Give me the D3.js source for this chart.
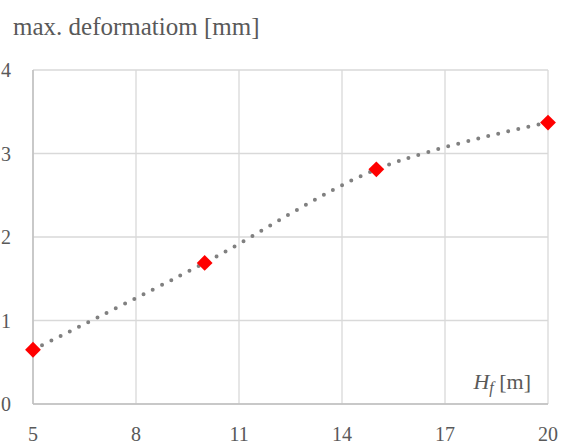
<!DOCTYPE html>
<html>
<head>
<meta charset="utf-8">
<script src="https://cdn.jsdelivr.net/npm/d3@7"></script>
<style>
  body { margin: 0; background: #fff; }
</style>
</head>
<body>
<div id="chart"></div>
<script>
const heights = [5, 10, 15, 20];
const deformation = [0.65, 1.69, 2.81, 3.37];
const xTicks = [5, 8, 11, 14, 17, 20];
const yTicks = [0, 1, 2, 3, 4];

const width = 563, height = 444;
const margin = { top: 70, right: 15, bottom: 40, left: 33 };
const serif = '"Liberation Serif", "Times New Roman", serif';
const base = 10; // text is set small and scaled up

const svg = d3.select("#chart").append("svg")
  .attr("width", width)
  .attr("height", height);

const x = d3.scaleLinear().domain([5, 20]).range([margin.left, width - margin.right]);
const y = d3.scaleLinear().domain([0, 4]).range([height - margin.bottom, margin.top]);

// helper: place a serif label at (px, py) with a given pixel size
function label(g, px, py, size, anchor) {
  return g.append("text")
    .attr("transform", `translate(${px},${py}) scale(${size / base})`)
    .attr("text-anchor", anchor)
    .style("font-family", serif)
    .attr("font-size", base)
    .attr("fill", "#595959");
}

// gridlines
svg.append("g")
  .selectAll("line")
  .data(xTicks)
  .join("line")
  .attr("x1", d => x(d)).attr("x2", d => x(d))
  .attr("y1", y(0)).attr("y2", y(4))
  .attr("stroke", "#d9d9d9").attr("stroke-width", 1.3);

svg.append("g")
  .selectAll("line")
  .data(yTicks)
  .join("line")
  .attr("x1", x(5)).attr("x2", x(20))
  .attr("y1", d => y(d)).attr("y2", d => y(d))
  .attr("stroke", "#d9d9d9").attr("stroke-width", 1.3);

// axis lines
svg.append("line")
  .attr("x1", x(5)).attr("x2", x(5)).attr("y1", y(0)).attr("y2", y(4))
  .attr("stroke", "#bfbfbf").attr("stroke-width", 1.5);
svg.append("line")
  .attr("x1", x(5)).attr("x2", x(20)).attr("y1", y(0)).attr("y2", y(0))
  .attr("stroke", "#bfbfbf").attr("stroke-width", 1.5);

// tick labels
const gx = svg.append("g");
xTicks.forEach(d => label(gx, x(d), height - 3, 20, "middle").text(d));

const gy = svg.append("g");
yTicks.forEach(d => label(gy, 11, y(d) + 7, 20, "end").text(d));

// title
label(svg, 13, 35, 25, "start").text("max. deformatiom [mm]");

// x axis label
const xl = label(svg, 531, 389, 22, "end");
xl.append("tspan").style("font-style", "italic").text("H");
xl.append("tspan").style("font-style", "italic").attr("font-size", base * 0.73).attr("dy", 2).text("f");
xl.append("tspan").attr("dy", -2).text(" [m]");

// smoothed dotted line
const pts = heights.map((h, i) => [h, deformation[i]]);
const line = d3.line()
  .x(d => x(d[0]))
  .y(d => y(d[1]))
  .curve(d3.curveCatmullRom.alpha(0));

svg.append("path")
  .datum(pts)
  .attr("d", line)
  .attr("fill", "none")
  .attr("stroke", "#808080")
  .attr("stroke-width", 4)
  .attr("stroke-linecap", "round")
  .attr("stroke-dasharray", "0 10.3");

// markers
svg.append("g")
  .selectAll("path")
  .data(pts)
  .join("path")
  .attr("d", d3.symbol(d3.symbolSquare, 125))
  .attr("transform", d => `translate(${x(d[0])},${y(d[1])}) rotate(45)`)
  .attr("fill", "#ff0000");
</script>
</body>
</html>
